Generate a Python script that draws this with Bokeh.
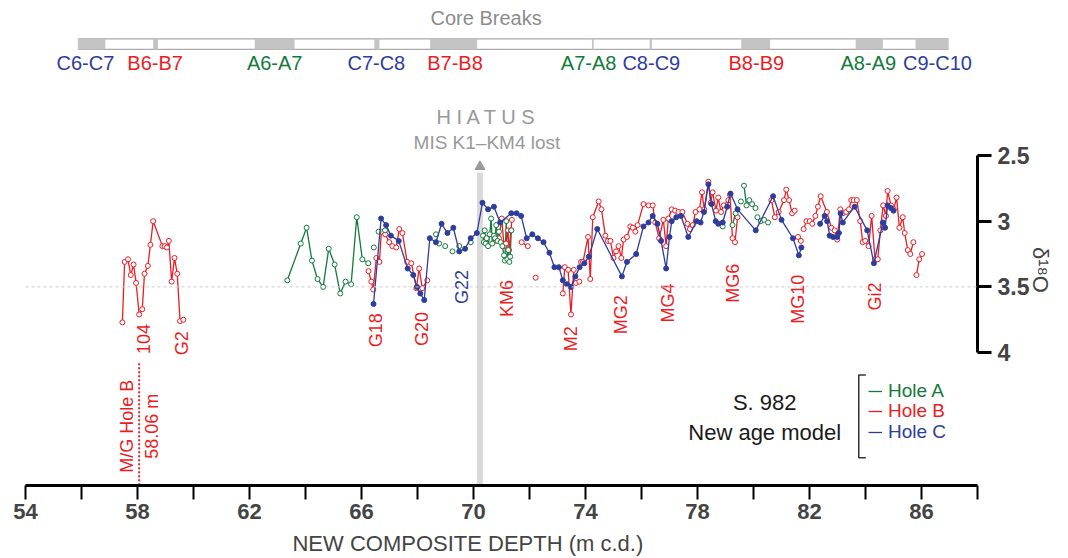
import numpy as np
from math import pi
from bokeh.plotting import figure
from bokeh.models import Range1d, FixedTicker, Span, Legend, LegendItem
from bokeh.core.properties import value
from bokeh.embed import file_html
from bokeh.resources import INLINE

nan = float("nan")
FONT = "Liberation Sans"
RED = "#ec1c24"
GREEN = "#137a3c"
BLUE = "#2e3d9c"

# ---------------- data (depth m c.d., d18O) ----------------
hole_a_depth = [63.35, 63.83, 64.04, 64.23, 64.43, 64.63, 64.83, 65.04, 65.24, 65.43, 65.63, 65.83, 66.03, 66.24, nan,
                66.44, nan, 66.61, nan, 66.84, nan,
                68.66, nan, 68.77, nan, 68.99, nan, 69.25, nan, 69.49, nan, 69.90, nan,
                70.34, 70.37, 70.40, 70.44, 70.47, 70.52, 70.58, 70.63, 70.67, 70.73, 70.77, 70.81,
                70.86, 70.91, 70.97, 71.03, 71.09, 71.12, 71.17, 71.21, 71.24, 71.28, 71.31, 71.35, nan,
                78.90, nan, 79.25, 79.36, nan, 79.55, nan, 79.66, 79.75, 79.85, 79.95, 80.07, nan,
                80.14, 80.26, 80.38, 80.52]
hole_a_d18o = [3.45, 3.17, 3.05, 3.30, 3.44, 3.50, 3.21, 3.33, 3.55, 3.46, 3.48, 2.97, 3.29, 3.32, nan,
               3.20, nan, 3.08, nan, 3.07, nan,
               3.10, nan, 3.17, nan, 3.19, nan, 3.23, nan, 3.19, nan, 3.16, nan,
               3.11, 3.16, 3.07, 3.17, 3.13, 3.19, 3.10, 2.98, 3.17, 3.11, 3.13, 3.03,
               3.15, 3.08, 3.16, 3.19, 3.26, 3.30, 3.00, 3.29, 3.22, 3.31, 3.27, 3.07, nan,
               3.04, nan, 3.03, 2.94, nan, 2.85, nan, 2.73, 2.88, 2.84, 2.87, 2.90, nan,
               2.97, 3.00, 2.99, 3.01]

hole_b_depth = [57.46, 57.54, 57.66, 57.76, 57.86, 57.95, 58.06, 58.17, 58.25, 58.37, 58.46, 58.56, 58.89, 58.97,
                59.05, 59.12, 59.22, 59.32, 59.42, 59.52, 59.64, nan,
                66.25, 66.35, 66.42, 66.53, 66.64, 66.71, 66.85, 66.99, 67.10, 67.24, 67.35, 67.46, 67.63, 67.78,
                67.96, 68.06, 68.17, 68.35, nan,
                70.80, 70.91, 71.01, 71.09, 71.16, 71.23, 71.27, 71.34, 71.37, nan,
                71.72, 71.94, nan, 72.22, nan,
                73.19, 73.26, 73.38, 73.48, 73.58, nan, 73.66, 73.78, nan,
                73.84, 73.91, 74.09, 74.17, 74.26, 74.47, 74.57, 74.71, 74.80, 74.89, 75.00, 75.09, 75.18,
                75.28, 75.36, 75.48, 75.60, 75.69, 75.78, 75.86, 76.07, 76.25, 76.40, 76.49, 76.63, 76.78, 76.88,
                76.96, 77.08, 77.20, 77.32, 77.46, 77.64, 77.73, 77.83, 77.93, 78.07, 78.16, 78.24, 78.39, 78.47,
                78.54, 78.66, 78.74, 78.84, 78.94, 79.10, 79.16, 79.25, 79.34, 79.43, nan,
                80.64, 80.76, 80.90, 81.09, 81.17, 81.27, 81.38, 81.47, nan, 81.59, 81.69, nan,
                81.79, 81.89, 82.01, 82.10, 82.21, 82.30, 82.40, 82.62, 82.78, 82.90, 82.99, 83.10, 83.19, 83.31,
                83.41, 83.49, 83.58, 83.69, 83.81, 83.90, 83.99, 84.11, 84.22, 84.34, 84.44, 84.53, 84.63, 84.73,
                84.79, 84.91, 85.01, 85.11, 85.21, 85.33, 85.40, 85.51, 85.60, 85.71, nan,
                85.82, 85.92, 86.02]
hole_b_d18o = [3.77, 3.31, 3.29, 3.41, 3.33, 3.47, 3.71, 3.67, 3.40, 3.34, 3.18, 3.00, 3.19, 3.19,
               3.20, 3.15, 3.46, 3.28, 3.40, 3.76, 3.75, nan,
               3.38, 3.46, 3.52, 3.28, 3.31, 3.08, 3.10, 3.16, 3.19, 3.20, 3.06, 3.09, 3.31, 3.32,
               3.51, 3.36, 3.51, 3.45, nan,
               3.15, 3.13, 2.98, 3.19, 3.17, 3.07, 3.22, 3.07, 2.99, nan,
               3.16, 3.19, nan, 3.43, nan,
               3.55, 3.35, 3.37, 3.71, 3.37, nan, 3.47, 3.46, nan,
               3.31, 3.31, 3.12, 3.44, 2.97, 2.85, 2.91, 3.11, 3.15, 3.15, 3.28, 3.23, 3.19,
               3.28, 3.14, 3.12, 3.04, 3.05, 3.08, 3.03, 2.87, 2.88, 2.88, 3.01, 3.13, 2.99, 3.19,
               2.98, 2.91, 2.92, 2.93, 2.93, 3.02, 3.06, 3.03, 2.93, 2.91, 2.78, 2.91, 2.70, 2.86,
               2.78, 2.92, 2.82, 2.93, 2.88, 2.84, 2.80, 3.13, 3.16, 2.97, nan,
               2.84, 2.97, 2.93, 2.84, 2.76, 2.84, 2.94, 2.92, nan, 3.12, 3.15, nan,
               3.06, 3.00, 3.00, 3.02, 2.96, 2.89, 2.81, 2.93, 3.05, 3.07, 3.14, 2.91, 2.94, 2.93,
               2.91, 2.84, 2.84, 2.84, 3.00, 3.16, 3.15, 3.19, 2.96, 3.29, 3.29, 3.07, 2.88, 2.96,
               2.77, 2.88, 2.91, 2.82, 3.05, 2.97, 3.09, 3.22, 3.25, 3.16, nan,
               3.41, 3.29, 3.25]

hole_c_depth = [66.43, 66.70, 66.88, 67.05, 67.33, 67.65, 67.85, 67.98, 68.10, 68.24, 68.44, 68.66, 68.86, 69.07,
                69.28, 69.49, 69.70, 69.90, 70.12, 70.32, 70.52, 70.73, 70.95, 71.35, 71.54, 71.70, 71.90, 72.10,
                72.30, 72.50, 72.71, 72.89, 73.05, 73.19, 73.34, 73.48, 73.64, 73.79, 73.96, 74.12, 74.42, 75.30,
                75.48, 75.81, 76.07, 76.25, 76.40, 76.57, 76.70, 76.88, 77.00, 77.08, 77.24, 77.41, 77.67, 77.97,
                78.11, 78.23, 78.39, 78.50, 78.65, 78.74, 78.90, 79.06, 79.18, 79.43, 80.08, 80.70, 81.00, 81.41,
                81.62, 81.71, nan,
                82.38, 82.54, 82.63, 82.72, 82.84, 82.99, 83.05, 83.11, 83.19, 83.61, 84.06, 84.30, 84.62, 84.70,
                84.79, 84.91, 85.00]
hole_c_d18o = [3.63, 2.98, 3.03, 3.11, 3.15, 3.36, 3.41, 3.50, 3.55, 3.60, 3.13, 3.16, 3.02, 3.09,
               3.05, 3.23, 3.21, 3.13, 3.09, 2.86, 2.91, 2.89, 3.01, 2.94, 2.94, 2.96, 3.13, 3.10,
               3.13, 3.16, 3.24, 3.35, 3.35, 3.45, 3.48, 3.50, 3.42, 3.35, 3.32, 3.27, 3.06, 3.42,
               3.31, 3.25, 3.04, 3.01, 2.96, 3.02, 3.15, 3.36, 3.12, 3.00, 2.97, 2.96, 3.12, 3.00,
               3.01, 2.93, 2.72, 2.87, 3.00, 3.02, 3.01, 2.89, 2.79, 2.91, 3.07, 2.81, 2.99, 3.13,
               3.26, 3.20, nan,
               3.02, 2.96, 3.00, 3.11, 3.12, 3.12, 3.09, 2.94, 3.01, 2.89, 3.07, 3.32, 3.01, 3.05,
               2.88, 2.90, 2.92]

# core breaks
break_labels = ["C6-C7", "B6-B7", "A6-A7", "C7-C8", "B7-B8", "A7-A8", "C8-C9", "B8-B9", "A8-A9", "C9-C10"]
break_start = [55.87, 58.56, 62.19, 66.46, 68.45, 74.23, 76.29, 79.56, 83.65, 85.79]
break_end = [56.85, 58.73, 63.61, 66.64, 70.13, 74.29, 76.37, 80.59, 84.62, 86.97]
break_label_x = [56.14, 58.63, 62.90, 66.53, 69.34, 74.11, 76.35, 80.10, 84.10, 86.57]
break_label_color = [BLUE, RED, GREEN, BLUE, RED, GREEN, BLUE, RED, GREEN, BLUE]

# events
event_labels = ["104", "G2", "G18", "G20", "G22", "KM6", "M2", "MG2", "MG4", "MG6", "MG10", "Gi2"]
event_x = [58.20, 59.59, 66.50, 68.17, 69.59, 71.19, 73.47, 75.25, 76.93, 79.28, 81.59, 84.33]
event_y = [4.01, 4.02, 3.96, 3.95, 3.63, 3.73, 3.99, 3.86, 3.77, 3.62, 3.78, 3.68]
event_color = [RED, RED, RED, RED, BLUE, RED, RED, RED, RED, RED, RED, RED]

hiatus_depth = 70.23
mg_depth = 58.06

x_ticks = list(range(54, 89, 2))
x_tick_labels = {t: (str(t) if (t - 54) % 4 == 0 else "") for t in x_ticks}
y_ticks = [2.5, 3, 3.5, 4]
y_tick_labels = {2.5: "2.5", 3: "3", 3.5: "3.5", 4: "4"}

# ---------------- figure ----------------
p = figure(width=1068, height=558, x_range=Range1d(54, 88), y_range=Range1d(5.011, 1.382),
           y_axis_location="right", toolbar_location=None, output_backend="svg",
           min_border_left=25, min_border_right=88, min_border_top=8, min_border_bottom=73)
p.grid.visible = False
p.outline_line_color = None

# x axis
xa = p.xaxis[0]
xa.ticker = FixedTicker(ticks=x_ticks)
xa.major_label_overrides = x_tick_labels
xa.axis_line_width = 3
xa.major_tick_line_width = 2
xa.major_tick_out = 14
xa.major_tick_in = 0
xa.minor_tick_line_color = None
xa.major_label_text_font = FONT
xa.major_label_text_font_style = "bold"
xa.major_label_text_font_size = "22px"
xa.major_label_standoff = 4
xa.axis_label = "NEW  COMPOSITE  DEPTH (m c.d.)" + "\u00a0" * 9
xa.axis_label_text_font = FONT
xa.axis_label_text_font_style = "normal"
xa.axis_label_text_font_size = "22px"
xa.axis_label_standoff = 9

# y axis (right)
ya = p.yaxis[0]
ya.bounds = (2.5, 4)
ya.ticker = FixedTicker(ticks=y_ticks)
ya.major_label_overrides = y_tick_labels
ya.axis_line_width = 3
ya.major_tick_line_width = 3
ya.major_tick_out = 14
ya.major_tick_in = 0
ya.minor_tick_line_color = None
ya.major_label_text_font = FONT
ya.major_label_text_font_style = "bold"
ya.major_label_text_font_size = "23px"
ya.major_label_standoff = 6
ya.axis_label = "\u03b4\u00b9\u2078O"
ya.axis_label_text_font = FONT
ya.axis_label_text_font_style = "normal"
ya.axis_label_text_font_size = "22px"
ya.axis_label_standoff = 8
ya.axis_label_orientation = -pi / 2
ya.axis_label_text_align = "right"

# reference line at 3.5
p.add_layout(Span(location=3.5, dimension="width", line_color="#cccccc", line_dash="3 3", line_width=1))

# hiatus bar + arrow
p.quad(left=hiatus_depth - 0.105, right=hiatus_depth + 0.105, top=2.63, bottom=5.011,
       fill_color="#d9d9d9", line_color=None)
p.scatter(x=[hiatus_depth], y=[2.585], marker="triangle", size=10, color="#9a9a9a")
p.text(x=[hiatus_depth + 0.25], y=[2.21], text=["H I A T U S"], text_align="center", text_baseline="middle",
       text_font=value(FONT), text_font_size="20px", text_color="#999999")
p.text(x=[hiatus_depth + 0.25], y=[2.40], text=["MIS K1\u2013KM4 lost"], text_align="center", text_baseline="middle",
       text_font=value(FONT), text_font_size="19px", text_color="#999999")

# core breaks
p.text(x=[70.45], y=[1.457], text=["Core Breaks"], text_align="center", text_baseline="middle",
       text_font=value(FONT), text_font_size="20px", text_color="#8c8c8c")
p.segment(x0=[break_start[0]] * 2, x1=[break_end[-1]] * 2, y0=[1.613, 1.693], y1=[1.613, 1.693],
          line_color="#aaaaaa", line_width=1.3)
p.quad(left=break_start, right=break_end, top=1.613, bottom=1.693, fill_color="#c4c4c4", line_color=None)
p.text(x=break_label_x, y=[1.80] * len(break_labels), text=break_labels, text_color=break_label_color,
       text_align="center", text_baseline="middle", text_font=value(FONT), text_font_size="20px")

# data
ha = p.line(hole_a_depth, hole_a_d18o, line_color=GREEN, line_width=1.3)
hb = p.line(hole_b_depth, hole_b_d18o, line_color=RED, line_width=1.3)
p.scatter(hole_b_depth, hole_b_d18o, size=5, line_color=RED, fill_color="white", line_width=1)
p.scatter(hole_a_depth, hole_a_d18o, size=5, line_color=GREEN, fill_color="white", line_width=1)
hc = p.line(hole_c_depth, hole_c_d18o, line_color=BLUE, line_width=1.3)
p.scatter(hole_c_depth, hole_c_d18o, size=5, line_color=BLUE, fill_color=BLUE, line_width=1)

# event labels
p.text(x=event_x, y=event_y, text=event_labels, text_color=event_color, angle=pi / 2,
       text_align="left", text_baseline="middle", text_font=value(FONT), text_font_size="18px")

# M/G boundary
p.segment(x0=[mg_depth], x1=[mg_depth], y0=[4.08], y1=[5.011], line_color=RED, line_width=2, line_dash="2 2")
p.text(x=[57.63, 58.52], y=[4.56, 4.56], text=["M/G Hole B", "58.06 m"], text_color=RED, angle=pi / 2,
       text_align="center", text_baseline="middle", text_font=value(FONT), text_font_size="18px")

# legend block
p.text(x=[80.40, 80.40], y=[4.38, 4.61], text=["S. 982", "New age model"], text_color="#1a1a1a",
       text_align="center", text_baseline="middle", text_font=value(FONT), text_font_size="22px")
p.line([84.01, 83.76, 83.76, 84.01], [4.17, 4.17, 4.80, 4.80], line_color="#333333", line_width=1.5)

for name, rend, col, ypos in [("Hole A", ha, GREEN, 83), ("Hole B", hb, RED, 63), ("Hole C", hc, BLUE, 42)]:
    lg = Legend(items=[LegendItem(label=name, renderers=[rend])], location=(843, ypos),
                label_text_color=col, label_text_font=FONT, label_text_font_size="19px",
                glyph_width=14, glyph_height=20, label_height=20, label_standoff=6,
                padding=0, margin=0, spacing=0, border_line_color=None, background_fill_alpha=0)
    p.add_layout(lg, "center")

open("out.html", "w").write(file_html(p, INLINE))
